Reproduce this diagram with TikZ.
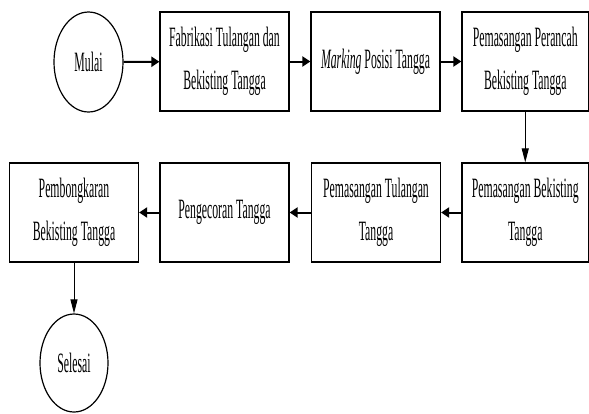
\documentclass[tikz,border=0pt]{standalone}
\usepackage{fontspec}
\setmainfont{Liberation Serif}[FakeStretch=0.42]
\usetikzlibrary{arrows.meta,shapes.geometric}
\begin{document}
\begin{tikzpicture}[x=1pt,y=-1pt,
  procbox/.style={draw,line width=1.2pt,minimum width=129pt,minimum height=99pt,inner sep=0pt,align=center,font=\fontsize{28}{43}\selectfont},
  termnode/.style={draw,ellipse,line width=1.2pt,inner sep=0pt,font=\fontsize{28}{30}\selectfont},
  thickarrow/.style={line width=2pt,-{Triangle[length=8pt,width=10pt]}},
  thinarrow/.style={line width=1pt,-{Triangle[length=14pt,width=7pt]}}]
\useasboundingbox (0,0) rectangle (589,413);
\node[termnode,minimum width=69pt,minimum height=100pt] (mulai) at (88.5,62) {Mulai};
\node[procbox] (b1) at (224.5,61.5) {Fabrikasi Tulangan dan\\Bekisting Tangga};
\node[procbox] (b2) at (375.5,61.5) {\textit{Marking} Posisi Tangga};
\node[procbox,minimum width=126.5pt] (b3) at (525.25,61.5) {Pemasangan Perancah\\Bekisting Tangga};
\node[procbox,minimum width=126.5pt] (b4) at (525.25,212.5) {Pemasangan Bekisting\\Tangga};
\node[procbox] (b5) at (376,212.5) {Pemasangan Tulangan\\Tangga};
\node[procbox] (b6) at (224.5,212.5) {Pengecoran Tangga};
\node[procbox] (b7) at (74,212.5) {Pembongkaran\\Bekisting Tangga};
\node[termnode,minimum width=68pt,minimum height=98pt] (selesai) at (74,363) {Selesai};
\draw[thickarrow] (mulai) -- (b1);
\draw[thickarrow] (b1) -- (b2);
\draw[thickarrow] (b2) -- (b3);
\draw[thinarrow] (b3) -- (b4);
\draw[thickarrow] (b4) -- (b5);
\draw[thickarrow] (b5) -- (b6);
\draw[thickarrow] (b6) -- (b7);
\draw[thinarrow] (b7) -- (selesai);
\end{tikzpicture}
\end{document}
